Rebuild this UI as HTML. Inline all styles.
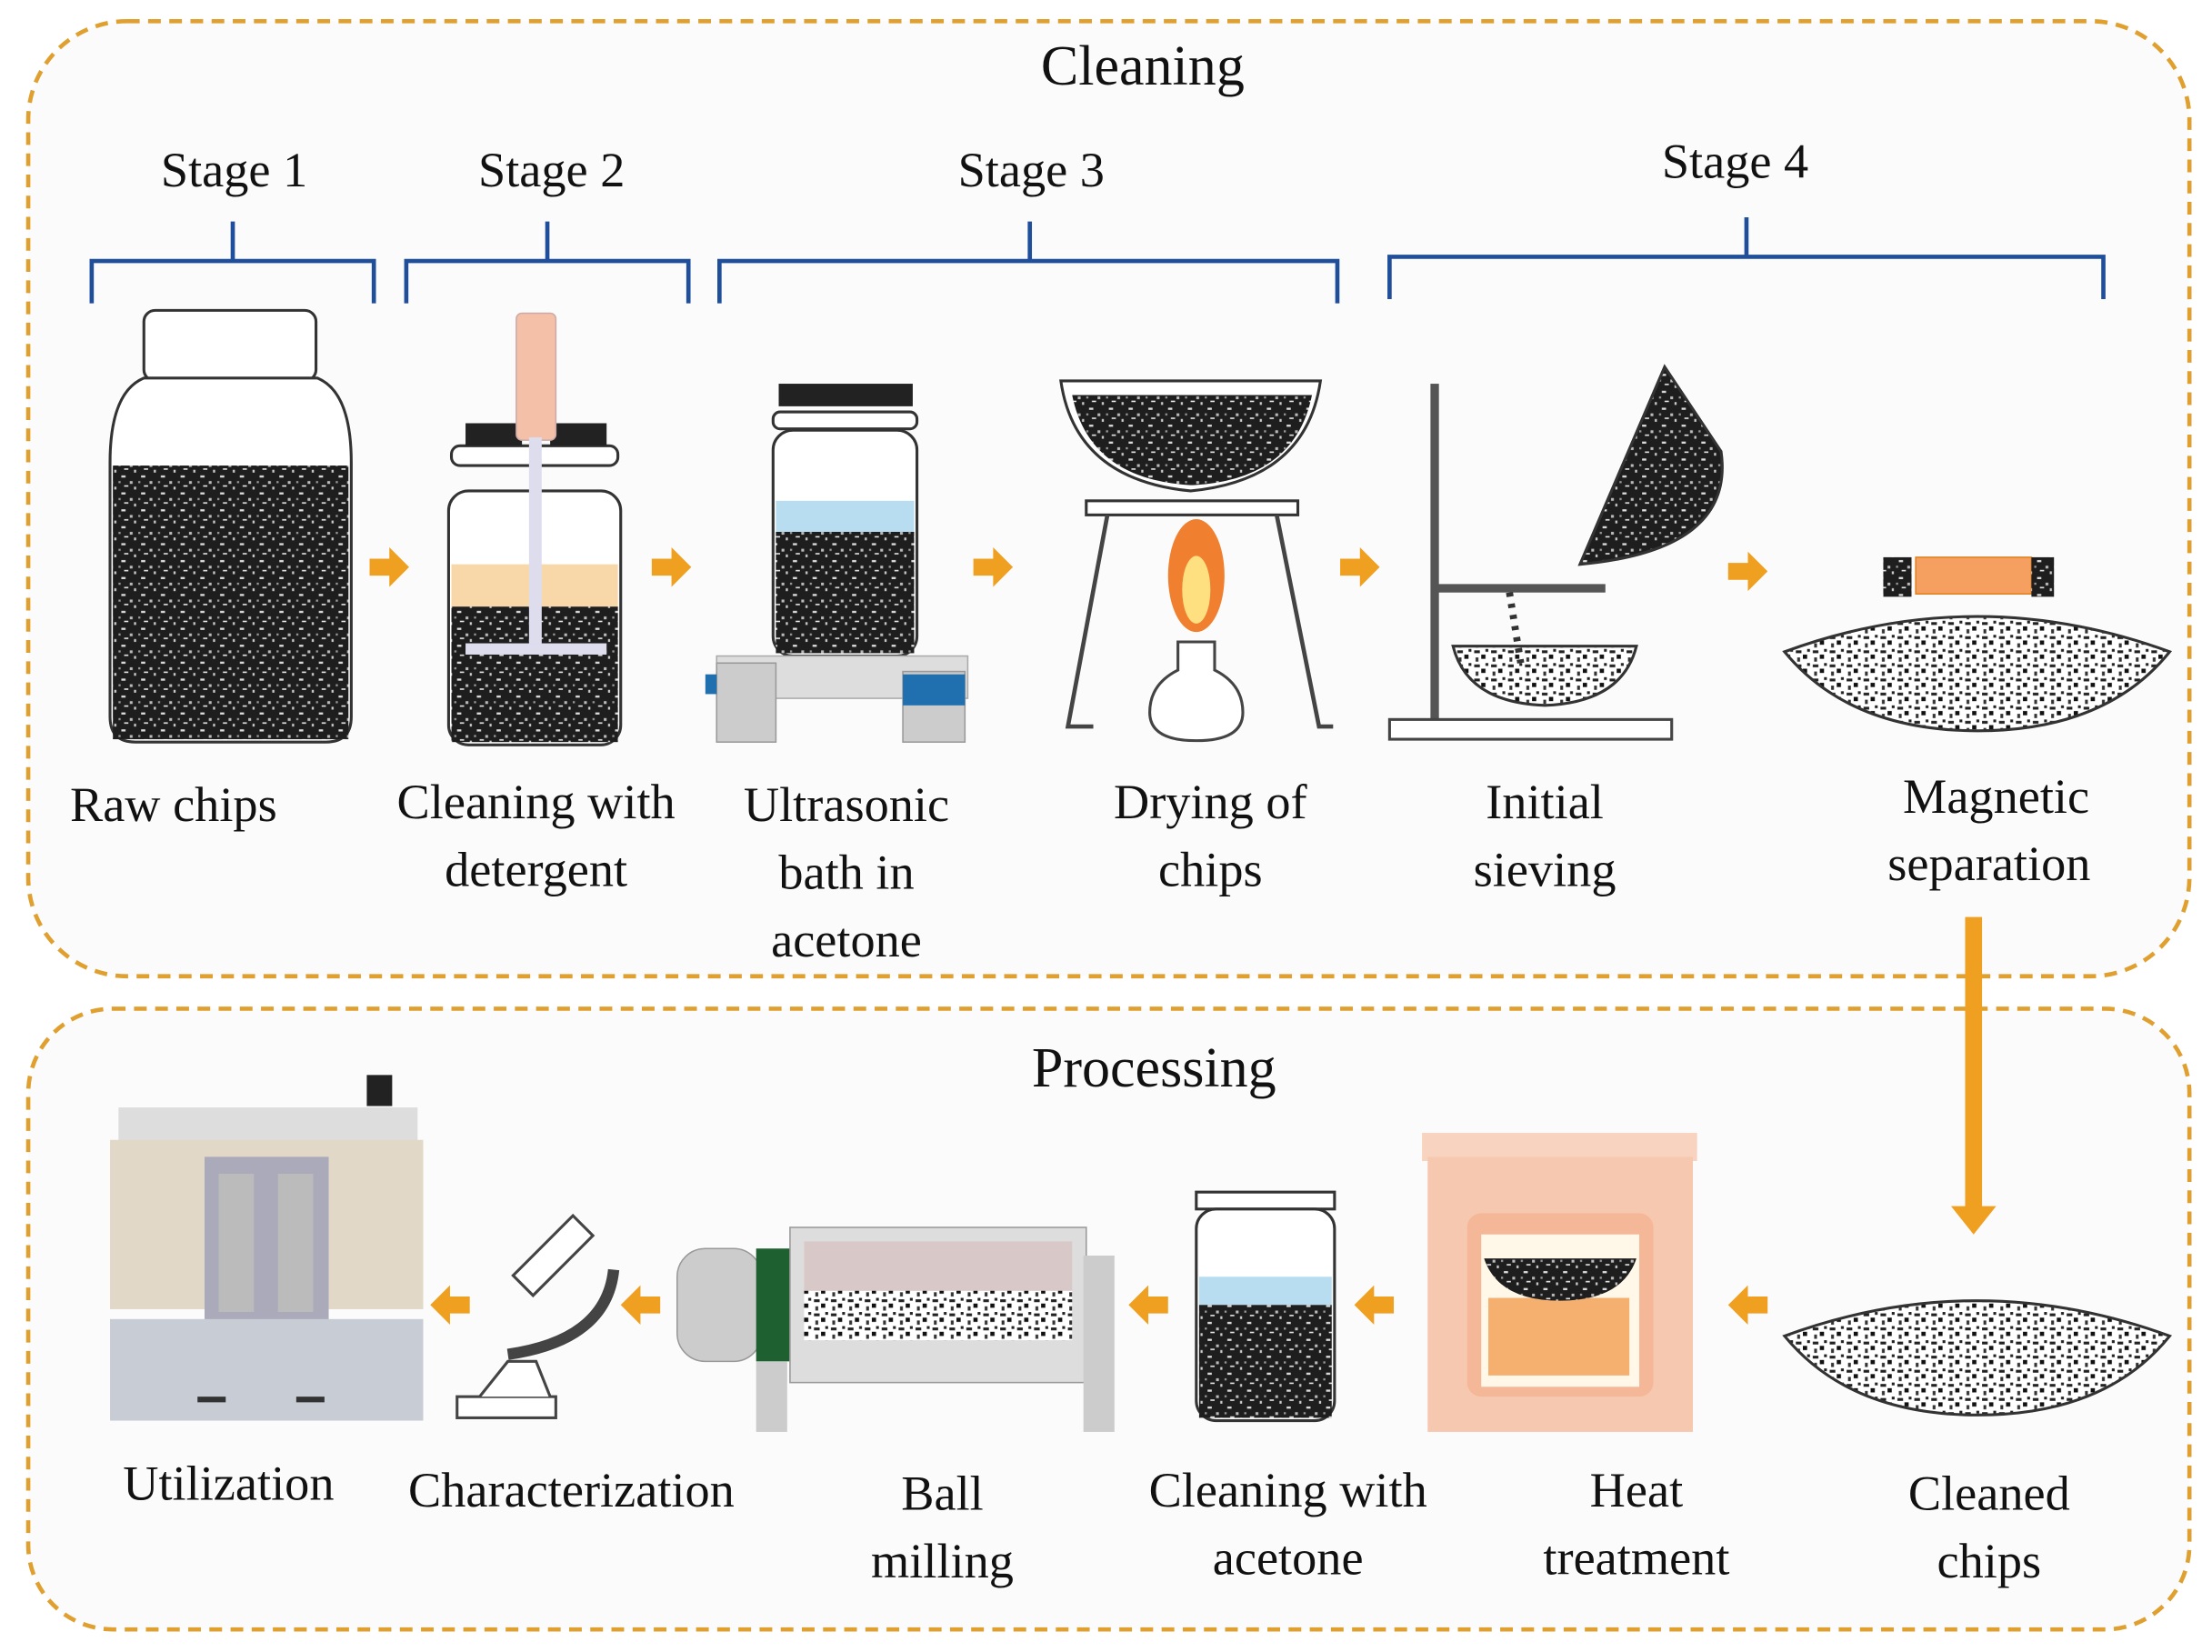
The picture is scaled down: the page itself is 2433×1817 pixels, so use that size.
<!DOCTYPE html>
<html><head><meta charset="utf-8"><style>
html,body{margin:0;padding:0;background:#fff;}
svg{display:block;}
text{font-family:"Liberation Serif",serif;fill:#111;}
</style></head><body>
<svg width="2433" height="1817" viewBox="0 0 1568 1171" preserveAspectRatio="none" xmlns="http://www.w3.org/2000/svg">
<defs>
<pattern id="ch" width="14" height="12" patternUnits="userSpaceOnUse">
<rect width="14" height="12" fill="#1e1e1e"/>
<rect x="2" y="1" width="3" height="1.5" fill="#ddd"/>
<rect x="8" y="5" width="2" height="2" fill="#bbb"/>
<rect x="4" y="8" width="3" height="1" fill="#eee"/>
<rect x="11" y="9" width="1.5" height="2" fill="#ccc"/>
<rect x="0" y="5" width="1.5" height="1.5" fill="#999"/>
</pattern>
<pattern id="ch2" width="12" height="10" patternUnits="userSpaceOnUse">
<rect width="12" height="10" fill="#fff"/>
<rect x="1" y="1" width="4" height="2" fill="#222"/>
<rect x="6" y="4" width="3" height="3" fill="#111"/>
<rect x="2" y="6" width="2" height="3" fill="#333"/>
<rect x="9" y="0" width="2" height="2" fill="#222"/>
</pattern>
<g id="arR"><path d="M0,-6 h14 v-8 l14,14 l-14,14 v-8 h-14z" fill="#F0A020"/></g>
<g id="arL"><path d="M28,-6 h-14 v-8 l-14,14 l14,14 v-8 h14z" fill="#F0A020"/></g>
</defs>
<rect width="1568" height="1171" fill="#fff"/>
<rect x="20" y="15" width="1532" height="677" rx="70" fill="#fbfbfb" stroke="#E0A030" stroke-width="3" stroke-dasharray="9,6"/>
<rect x="20" y="715" width="1532" height="440" rx="60" fill="#fbfbfb" stroke="#E0A030" stroke-width="3" stroke-dasharray="9,6"/>
<text x="810" y="60" font-size="40" text-anchor="middle">Cleaning</text>
<text x="818" y="770" font-size="40" text-anchor="middle">Processing</text>
<g font-size="35" text-anchor="middle">
<text x="166" y="132">Stage 1</text><text x="391" y="132">Stage 2</text>
<text x="731" y="132">Stage 3</text><text x="1230" y="126">Stage 4</text>
</g>
<g fill="none" stroke="#1F4E9A" stroke-width="3">
<path d="M65,215 v-30 h100 v-28 M165,185 h100 v30"/>
<path d="M288,215 v-30 h100 v-28 M388,185 h100 v30"/>
<path d="M510,215 v-30 h220 v-28 M730,185 h218 v30"/>
<path d="M985,212 v-30 h253 v-28 M1238,182 h253 v30"/>
</g>
<!-- Stage1 jar -->
<rect x="102" y="220" width="122" height="50" rx="8" fill="#fff" stroke="#333" stroke-width="2"/>
<path d="M102,268 q-24,10 -24,60 v180 q0,18 18,18 h135 q18,0 18,-18 v-180 q0,-50 -24,-60z" fill="#fff" stroke="#333" stroke-width="2"/>
<rect x="80" y="330" width="167" height="194" fill="url(#ch)"/>
<!-- stage2 -->
<rect x="318" y="348" width="122" height="180" rx="14" fill="#fff" stroke="#333" stroke-width="2"/>
<rect x="320" y="400" width="118" height="30" fill="#F8D8A8"/>
<rect x="320" y="430" width="118" height="96" fill="url(#ch)"/>
<rect x="320" y="316" width="118" height="14" rx="6" fill="#fff" stroke="#333" stroke-width="2"/>
<rect x="330" y="300" width="40" height="16" fill="#222"/><rect x="390" y="300" width="40" height="16" fill="#222"/>
<rect x="366" y="222" width="28" height="90" rx="4" fill="#F4C0A8" stroke="#caa" stroke-width="1"/>
<rect x="375" y="310" width="9" height="150" fill="#dde"/>
<rect x="330" y="456" width="100" height="8" fill="#dde"/>
<!-- stage3 -->
<rect x="552" y="272" width="95" height="16" fill="#222"/>
<rect x="548" y="292" width="102" height="12" rx="5" fill="#fff" stroke="#333" stroke-width="2"/>
<rect x="548" y="305" width="102" height="160" rx="14" fill="#fff" stroke="#333" stroke-width="2"/>
<rect x="550" y="355" width="98" height="22" fill="#B8DDF0"/>
<rect x="550" y="377" width="98" height="86" fill="url(#ch)"/>
<rect x="508" y="465" width="178" height="30" fill="#ddd" stroke="#aaa"/>
<rect x="508" y="470" width="42" height="56" fill="#ccc" stroke="#999"/>
<rect x="640" y="476" width="44" height="50" fill="#ccc" stroke="#999"/>
<rect x="640" y="478" width="44" height="22" fill="#2070B0"/>
<rect x="500" y="478" width="8" height="14" fill="#2070B0"/>
<!-- drying -->
<path d="M752,270 h184 q-10,70 -92,78 q-82,-8 -92,-78z" fill="#fff" stroke="#333" stroke-width="2"/>
<path d="M760,280 h170 q-12,60 -85,64 q-73,-4 -85,-64z" fill="url(#ch)"/>
<rect x="770" y="355" width="150" height="10" fill="#fff" stroke="#333" stroke-width="2"/>
<path d="M785,365 l-28,150 h18 M905,365 l30,150 h10" fill="none" stroke="#444" stroke-width="3"/>
<ellipse cx="848" cy="408" rx="20" ry="40" fill="#F08030"/><ellipse cx="848" cy="418" rx="10" ry="24" fill="#FFE080"/>
<path d="M835,455 h26 v20 q20,10 20,30 q0,20 -33,20 q-33,0 -33,-20 q0,-20 20,-30z" fill="#fff" stroke="#444" stroke-width="2"/>
<!-- sieving -->
<rect x="1014" y="272" width="6" height="240" fill="#555"/>
<rect x="985" y="510" width="200" height="14" fill="#fff" stroke="#444" stroke-width="2"/>
<rect x="1018" y="414" width="120" height="6" fill="#555"/>
<path d="M1030,458 h130 q-10,40 -65,42 q-55,-2 -65,-42z" fill="url(#ch2)" stroke="#333" stroke-width="2"/>
<path d="M1120,400 l60,-140 l40,60 q10,70 -100,80z" fill="url(#ch)" stroke="#333" stroke-width="2"/>
<path d="M1070,420 l8,50" stroke="#333" stroke-width="5" stroke-dasharray="3,5"/>
<!-- magnetic -->
<rect x="1358" y="395" width="82" height="26" fill="#F5A060" stroke="#E08020"/>
<rect x="1335" y="395" width="20" height="28" fill="url(#ch)"/><rect x="1440" y="395" width="16" height="28" fill="url(#ch)"/>
<path d="M1265,462 q136,-50 273,0 q-45,56 -136,56 q-91,0 -137,-56z" fill="url(#ch2)" stroke="#333" stroke-width="2"/>
<!-- arrows top -->
<use href="#arR" x="262" y="402"/><use href="#arR" x="462" y="402"/><use href="#arR" x="690" y="402"/>
<use href="#arR" x="950" y="402"/><use href="#arR" x="1225" y="405"/>
<path d="M1393,650 h12 v205 h10 l-16,20 l-16,-20 h10z" fill="#F0A020"/>
<!-- labels top -->
<g font-size="35" text-anchor="middle">
<text x="123" y="582">Raw chips</text>
<text x="380" y="580">Cleaning with</text><text x="380" y="628">detergent</text>
<text x="600" y="582">Ultrasonic</text><text x="600" y="630">bath in</text><text x="600" y="678">acetone</text>
<text x="858" y="580">Drying of</text><text x="858" y="628">chips</text>
<text x="1095" y="580">Initial</text><text x="1095" y="628">sieving</text>
<text x="1415" y="576">Magnetic</text><text x="1410" y="624">separation</text>
</g>
<!-- bottom: cleaned chips -->
<path d="M1265,947 q136,-50 273,0 q-45,56 -136,56 q-91,0 -137,-56z" fill="url(#ch2)" stroke="#333" stroke-width="2"/>
<!-- furnace -->
<rect x="1008" y="803" width="195" height="20" fill="#F8D4C0"/>
<rect x="1012" y="820" width="188" height="195" fill="#F7C8B0"/>
<rect x="1040" y="860" width="132" height="130" rx="10" fill="#F4B898"/>
<rect x="1050" y="875" width="112" height="108" fill="#fff8e8"/>
<rect x="1055" y="920" width="100" height="55" fill="#F5B070"/>
<path d="M1052,892 h108 q-10,30 -54,30 q-44,0 -54,-30z" fill="url(#ch)"/>
<!-- acetone jar -->
<rect x="848" y="845" width="98" height="12" fill="#fff" stroke="#333" stroke-width="2"/>
<rect x="848" y="857" width="98" height="150" rx="14" fill="#fff" stroke="#333" stroke-width="2"/>
<rect x="850" y="905" width="94" height="20" fill="#B8DDF0"/>
<rect x="850" y="925" width="94" height="80" fill="url(#ch)"/>
<!-- ball mill -->
<rect x="480" y="885" width="60" height="80" rx="20" fill="#ccc" stroke="#999"/>
<rect x="536" y="885" width="24" height="80" fill="#1E6030"/>
<rect x="560" y="870" width="210" height="110" fill="#ddd" stroke="#999"/>
<rect x="570" y="880" width="190" height="68" fill="#d8c8c8"/>
<rect x="570" y="915" width="190" height="35" fill="url(#ch2)"/>
<rect x="536" y="965" width="22" height="50" fill="#ccc"/><rect x="768" y="890" width="22" height="125" fill="#ccc"/>
<!-- microscope -->
<rect x="324" y="990" width="70" height="15" fill="#fff" stroke="#444" stroke-width="2"/>
<path d="M340,990 l20,-25 h20 l10,25" fill="#fff" stroke="#444" stroke-width="2"/>
<path d="M360,960 q70,-10 75,-60" fill="none" stroke="#444" stroke-width="8"/>
<rect x="362" y="880" width="60" height="20" transform="rotate(-45 392 890)" fill="#fff" stroke="#444" stroke-width="2"/>
<!-- utilization -->
<rect x="84" y="785" width="212" height="25" fill="#ddd"/>
<rect x="260" y="762" width="18" height="22" fill="#222"/>
<rect x="78" y="808" width="222" height="120" fill="#E2D8C8"/>
<rect x="145" y="820" width="88" height="120" fill="#aab"/>
<rect x="155" y="832" width="25" height="98" fill="#bbb"/><rect x="197" y="832" width="25" height="98" fill="#bbb"/>
<rect x="78" y="935" width="222" height="72" fill="#C8CCD4"/>
<rect x="140" y="990" width="20" height="4" fill="#333"/><rect x="210" y="990" width="20" height="4" fill="#333"/>
<!-- arrows bottom -->
<use href="#arL" x="1225" y="925"/><use href="#arL" x="960" y="925"/><use href="#arL" x="800" y="925"/>
<use href="#arL" x="440" y="925"/><use href="#arL" x="305" y="925"/>
<g font-size="35" text-anchor="middle">
<text x="162" y="1063">Utilization</text>
<text x="405" y="1068">Characterization</text>
<text x="668" y="1070">Ball</text><text x="668" y="1118">milling</text>
<text x="913" y="1068">Cleaning with</text><text x="913" y="1116">acetone</text>
<text x="1160" y="1068">Heat</text><text x="1160" y="1116">treatment</text>
<text x="1410" y="1070">Cleaned</text><text x="1410" y="1118">chips</text>
</g>
</svg>
</body></html>
